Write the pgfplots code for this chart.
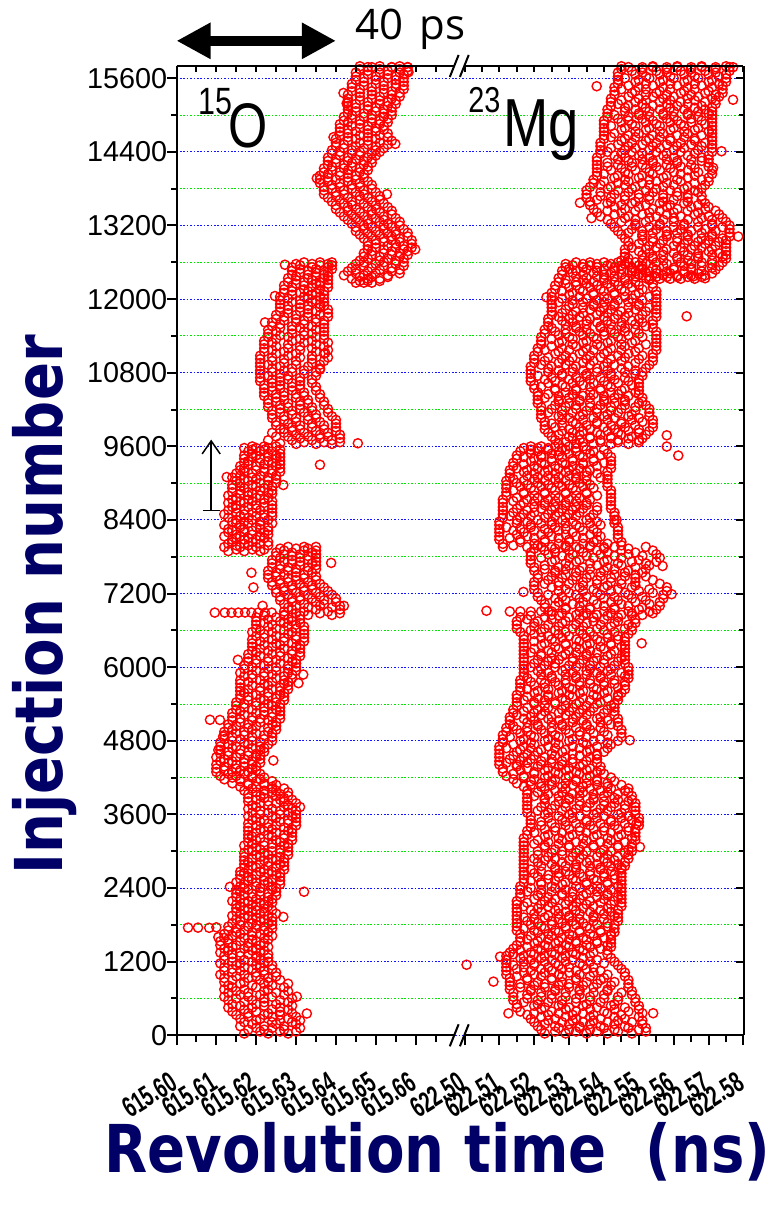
\documentclass[border=0pt]{standalone}
\usepackage{fontspec}
\usepackage{pgfplots}
\usepackage{pgfplotstable}
\pgfplotsset{compat=1.18}
\usetikzlibrary{arrows.meta}

\setmainfont{Liberation Sans}
\newfontfamily\narrowsans{Liberation Sans}[FakeStretch=0.8]
\newfontfamily\ticksans{Liberation Sans}[FakeStretch=0.65]
\newfontfamily\titlesans{DejaVu Sans}[FakeStretch=0.85]
\newfontfamily\labelsans{Open Sans}

\definecolor{navytitle}{RGB}{0,0,102}
\definecolor{gridblue}{RGB}{20,20,255}
\definecolor{gridgreen}{RGB}{0,230,0}

\newcommand\xtickfont{\ticksans\bfseries\fontsize{14.5}{14.5}\selectfont}

\pgfplotsset{
  ringmark/.style={only marks, mark=o, mark size=2.3pt,
    mark options={draw=red, line width=0.7pt}},
  panel/.style={at={(0pt,0pt)}, anchor=south west, scale only axis,
    height=484.65pt, ymin=0, ymax=15800,
    scaled x ticks=false, scaled y ticks=false,
    every tick/.style={black, line width=1pt},
    axis line style={line width=1pt}},
  timelabels/.style={xticklabel style={font=\xtickfont, xshift=-4pt, yshift=-12.5pt,
    rotate=32, anchor=north east, inner sep=0pt}},
}

% Each row: two injection numbers (ya, yb) and the revolution times (ps offset)
% of the ions recorded around them; odd columns belong to ya, even ones to yb.
\newcommand\ringsix[1]{%
  \addplot[ringmark] table[x index=2,y index=0]{#1};
  \addplot[ringmark] table[x index=3,y index=1]{#1};
  \addplot[ringmark] table[x index=4,y index=0]{#1};
  \addplot[ringmark] table[x index=5,y index=1]{#1};
  \addplot[ringmark] table[x index=6,y index=0]{#1};
  \addplot[ringmark] table[x index=7,y index=1]{#1};}
\newcommand\ringten[1]{%
  \addplot[ringmark] table[x index=2,y index=0]{#1};
  \addplot[ringmark] table[x index=3,y index=1]{#1};
  \addplot[ringmark] table[x index=4,y index=0]{#1};
  \addplot[ringmark] table[x index=5,y index=1]{#1};
  \addplot[ringmark] table[x index=6,y index=0]{#1};
  \addplot[ringmark] table[x index=7,y index=1]{#1};
  \addplot[ringmark] table[x index=8,y index=0]{#1};
  \addplot[ringmark] table[x index=9,y index=1]{#1};
  \addplot[ringmark] table[x index=10,y index=0]{#1};
  \addplot[ringmark] table[x index=11,y index=1]{#1};}

% ---------- 15O : time in ps above 615.600 ns ----------
\pgfplotstableread[header=false]{
30 62 17 21 23 26 28 30
92 120 18 20 22 24 27 31
148 183 16 19 22 25 27 30
214 241 17 20 24 26 29 31
268 301 16 18 21 24 28 30
333 360 15 18 22 23 26 29
388 422 14 17 20 24 26 28
452 481 13 16 19 22 26 29
507 539 14 17 20 22 25 28
571 600 13 15 19 22 26 29
628 661 12 16 18 21 24 27
693 721 13 15 18 22 25 28
748 782 12 14 17 20 23 27
812 840 13 16 19 22 24 28
868 901 12 14 17 21 23 26
933 961 12 15 18 20 23 25
988 1022 11 14 17 20 22 25
1052 1080 12 14 16 19 22 24
1108 1141 12 15 17 20 21 24
1172 1200 11 14 16 19 22 23
1228 1262 12 14 17 20 21 23
1293 1321 12 14 16 18 20 23
1348 1382 11 13 16 19 21 22
1412 1440 12 14 17 18 20 23
1468 1501 11 13 15 18 21 22
1533 1561 11 13 16 19 20 23
1588 1622 12 14 17 19 22 24
1652 1680 12 15 16 19 21 23
1708 1741 13 15 17 20 22 24
1773 1801 13 16 18 20 22 24
1828 1862 14 16 19 21 23 24
1892 1920 15 17 19 20 22 24
1948 1981 14 16 18 21 23 25
2013 2041 15 17 19 20 22 24
2068 2102 15 16 18 20 22 23
2132 2160 15 17 19 21 22 24
2188 2221 14 16 18 20 23 24
2253 2281 15 17 19 21 23 25
2308 2342 15 16 19 21 23 25
2372 2400 15 17 18 21 24 25
2428 2461 16 17 20 22 24 26
2493 2521 15 18 20 22 23 26
2548 2582 16 18 19 22 24 26
2612 2640 16 17 20 23 25 26
2668 2701 16 18 21 22 24 27
2733 2761 17 19 20 23 25 27
2788 2822 17 18 21 23 26 27
2852 2880 17 19 22 24 25 27
2908 2941 17 20 21 23 26 28
2973 3001 17 19 22 24 26 28
3028 3062 18 20 21 24 26 28
3092 3120 17 19 22 24 27 28
3148 3181 18 20 22 25 26 29
3213 3241 18 19 21 24 27 29
3268 3302 18 20 23 25 27 29
3332 3360 18 21 22 24 28 29
3388 3421 18 20 23 25 27 30
3453 3481 18 21 23 26 28 30
3508 3542 19 20 22 25 28 30
3572 3600 18 21 24 26 29 30
3628 3661 19 21 23 26 28 30
3693 3721 18 20 24 27 29 31
3748 3782 19 21 23 25 28 30
3812 3840 18 20 23 26 27 29
3868 3901 18 21 22 25 27 28
3933 3961 18 20 22 24 26 28
3988 4022 17 19 22 24 25 27
4052 4080 16 18 20 22 24 25
4108 4141 14 16 18 20 22 24
4173 4201 12 14 16 19 21 22
4228 4262 11 13 15 17 19 21
4292 4320 10 12 14 16 18 20
4348 4381 10 12 15 17 19 20
4413 4441 10 13 15 17 19 21
4468 4502 11 12 14 17 19 21
4532 4560 10 13 15 18 20 21
4588 4621 11 13 16 18 20 22
4653 4681 11 14 16 19 21 22
4708 4742 11 13 15 18 21 23
4772 4800 11 14 17 19 21 24
4828 4861 12 14 16 19 22 24
4893 4921 12 15 17 20 22 24
4948 4982 12 14 17 19 23 25
5012 5040 13 15 18 20 23 25
5068 5101 13 16 18 21 24 25
5133 5161 14 16 19 21 23 26
5188 5222 14 17 19 22 24 26
5252 5280 14 16 20 22 24 26
5308 5341 15 17 19 22 25 26
5373 5401 15 17 20 23 24 26
5428 5462 15 18 20 22 25 27
5492 5520 16 18 21 23 25 27
5548 5581 16 17 20 23 26 27
5613 5641 16 18 21 24 26 28
5668 5702 16 19 21 23 26 28
5732 5760 16 18 22 24 27 28
5788 5821 16 19 21 25 27 29
5853 5881 17 19 22 24 27 29
5908 5942 16 20 22 25 28 30
5972 6000 17 19 23 25 28 30
6028 6061 17 20 22 26 28 30
6093 6121 18 20 23 25 29 30
6148 6182 18 21 23 26 28 31
6212 6240 18 20 24 26 29 31
6268 6301 19 21 23 27 29 31
6333 6361 19 22 24 26 30 31
6388 6422 19 21 25 27 29 32
6452 6480 19 22 24 27 30 32
6508 6541 20 22 25 28 30 32
6573 6601 19 21 24 27 29 32
6628 6662 20 23 25 28 30 32
6692 6720 20 22 24 27 30 31
6748 6781 20 23 26 28 29 31
6812 6840 20 22 25 27 29 31
}\oA
\pgfplotstableread[header=false]{
6852 6880 27 30 33 36 39 41
6908 6941 27 29 32 35 38 41
6973 7001 28 30 33 36 39 41
7028 7062 27 29 32 35 37 40
7092 7120 26 29 31 34 37 40
7148 7181 26 28 31 33 36 39
7213 7241 25 27 30 32 35 38
7268 7302 25 27 29 32 34 37
7332 7360 24 26 29 31 34 36
7388 7421 24 26 28 30 33 35
7453 7481 23 25 28 30 32 35
7508 7542 23 25 27 30 32 34
7572 7600 23 26 28 30 33 35
7628 7661 24 26 28 31 33 35
7693 7721 24 27 29 31 34 35
7748 7782 24 26 29 31 33 35
7812 7840 25 27 29 31 33 35
7868 7901 25 27 29 32 34 35
7933 7961 26 28 30 32 33 35
}\oB
\pgfplotstableread[header=false]{
7892 7920 13 15 17 19 21 22
7958 7986 12 15 16 18 20 23
8012 8041 13 14 17 19 21 23
8078 8106 14 15 17 18 20 22
8132 8161 12 15 16 19 21 23
8198 8226 13 14 17 19 22 23
8252 8281 13 16 17 20 21 23
8318 8346 12 15 16 18 21 24
8372 8401 14 15 17 19 21 23
8438 8466 13 16 18 20 22 24
8492 8521 12 15 17 19 22 24
8558 8586 13 15 17 20 21 24
8612 8641 14 15 18 20 22 24
8678 8706 13 16 17 19 22 24
8732 8761 14 15 18 20 22 23
8798 8826 13 16 18 19 21 24
8852 8881 14 16 18 21 23 24
8918 8946 14 16 17 20 22 24
8972 9001 14 16 19 21 23 25
9038 9066 15 17 18 20 23 25
9092 9121 14 16 19 21 23 25
9158 9186 15 17 19 22 24 26
9212 9241 16 17 20 22 24 26
9278 9306 16 18 20 22 25 26
9332 9361 17 18 21 23 24 26
9398 9426 17 19 21 23 25 26
9452 9481 17 19 20 23 25 26
9518 9546 18 19 21 22 24 26
9572 9598 17 19 20 22 23 25
}\oC
\pgfplotstableread[header=false]{
9640 9668 30 32 35 37 39 41
9702 9731 29 31 34 36 39 41
9758 9790 28 30 33 36 38 41
9822 9850 27 29 32 35 38 40
9878 9911 26 29 31 34 37 40
9942 9970 25 28 31 34 37 40
9998 10031 25 27 30 33 36 40
10062 10090 24 27 30 33 35 39
10118 10151 24 26 29 32 35 38
10182 10210 24 26 29 31 34 38
10238 10271 23 26 28 31 34 37
10302 10330 23 25 28 31 33 37
10358 10391 23 25 27 30 33 36
10422 10450 22 25 27 30 32 36
10478 10511 22 24 27 29 32 35
10542 10570 22 24 26 29 31 35
10598 10631 22 24 26 29 31 34
10662 10690 21 24 26 28 31 34
10718 10751 21 23 26 28 31 35
10782 10810 21 24 26 29 32 35
10838 10871 21 24 27 29 32 36
10902 10930 21 23 26 30 33 36
10958 10991 21 24 27 30 34 37
11022 11050 21 24 27 31 34 38
11078 11111 21 25 28 30 34 37
11142 11170 22 24 27 31 35 38
11198 11231 22 25 28 31 34 37
11262 11290 22 24 28 32 35 38
11318 11351 22 25 29 31 34 37
11382 11410 23 26 28 32 35 37
11438 11471 23 25 29 32 34 37
11502 11530 23 26 29 31 35 37
11558 11591 24 26 29 32 34 37
11622 11650 24 27 30 32 35 37
11678 11711 25 27 30 33 35 38
11742 11770 25 28 30 33 36 38
11798 11831 26 28 31 33 35 38
11862 11890 26 28 31 33 36 37
11918 11951 26 29 31 34 36 37
11982 12010 26 28 31 33 35 37
12038 12071 26 29 32 34 36 37
12102 12130 27 29 31 33 35 37
12158 12191 27 29 32 34 36 38
12222 12250 27 30 32 35 36 38
12278 12311 28 30 32 34 36 38
12342 12370 28 30 33 35 37 38
12398 12431 29 31 33 35 37 38
12462 12490 29 31 33 35 37 39
12518 12551 29 31 34 36 38 39
12572 12598 30 32 34 36 38 39
}\oD
\pgfplotstableread[header=false]{
12268 12296 45 46 47 48 49 51
12332 12361 44 46 48 49 51 53
12388 12420 42 45 47 50 53 56
12452 12480 43 45 48 51 54 56
12508 12541 44 47 49 52 54 57
12572 12600 45 47 50 52 55 57
12628 12661 46 48 51 53 55 57
12692 12720 47 49 51 54 56 58
12748 12781 47 49 52 54 56 58
12812 12840 48 50 52 55 57 59
12868 12901 48 50 53 55 57 59
12932 12960 48 50 52 54 56 59
12988 13021 47 49 52 54 56 58
13052 13080 46 48 51 53 55 58
13108 13141 45 47 50 52 55 57
13172 13200 45 47 49 52 54 56
13228 13261 44 46 48 51 53 56
13292 13320 43 45 48 50 52 55
13348 13381 42 44 47 49 52 54
13412 13440 41 43 46 49 51 54
13468 13501 40 43 45 48 50 53
13532 13560 40 42 44 47 50 52
13588 13621 39 41 44 46 49 51
13652 13680 38 40 43 46 48 51
13708 13741 37 40 42 45 47 50
13772 13800 37 39 42 44 47 49
13828 13861 37 39 41 44 46 49
13892 13920 36 38 41 43 46 48
13948 13981 36 38 40 43 45 47
14012 14040 36 38 41 43 45 47
14068 14101 37 39 41 43 46 48
14132 14160 37 39 42 44 46 48
14188 14221 38 40 42 44 47 49
14252 14280 38 40 43 45 47 49
14308 14341 38 41 43 46 48 50
14372 14400 39 41 44 46 49 51
14428 14461 39 42 44 47 50 52
14492 14520 40 42 45 48 50 53
14548 14581 40 43 46 48 51 54
14612 14640 40 43 45 48 50 53
14668 14701 41 43 46 48 51 53
14732 14760 41 43 45 48 50 52
14788 14821 41 44 46 48 50 52
14852 14880 41 43 46 49 51 53
14908 14941 42 44 46 49 51 53
14972 15000 42 44 47 49 52 54
15028 15061 43 45 47 50 52 54
15092 15120 43 45 48 50 52 54
15148 15181 43 45 48 51 53 55
15212 15240 43 46 48 51 53 55
15268 15301 43 46 49 51 54 56
15332 15360 43 46 49 52 54 56
15388 15421 44 46 49 52 54 57
15452 15480 44 47 49 52 55 57
15508 15541 44 47 50 52 55 57
15572 15600 45 47 50 53 55 57
15628 15661 45 48 50 53 55 57
15692 15720 45 48 51 53 56 58
15748 15781 46 48 51 54 56 58
15795 15780 46 49 51 54 56 58
}\oE
% isolated 15O events: time (ps above 615.600 ns), injection number
\pgfplotstableread[header=false]{
2.9 1755
5.4 1755
8.2 1752
10 1760
10.5 1600
9.6 6890
12.1 6890
13.8 6888
15.5 6890
17.2 6892
18.8 6890
20.5 6890
22.2 6888
23.9 6890
8.4 5143
10.9 5140
11.7 4870
10.5 4650
15.4 6120
18.8 7540
19.3 7300
21.6 7000
38.8 7700
42 7000
32 2340
13.4 2420
26.8 1930
32.7 355
30.2 630
30.6 5740
31.8 5880
24.3 4480
36 9300
45.5 9650
26.8 8970
12.6 9100
36 10850
37.3 11120
24.7 12050
22.2 11620
27.2 12560
39.4 14640
35.2 13970
54.9 14530
52.8 13710
59.9 12810
41.9 15360
42.7 15190
58.2 15700
23 9700
25 9760
26 9650
24 9820
27 9880
}\oX

% ---------- 23Mg : time in ps above 622.500 ns ----------
\pgfplotstableread[header=false]{
30 62 23 26 29 32 35 38 41 44 48 52
92 120 22 27 30 33 36 40 43 47 50 52
148 183 21 23 26 30 33 36 39 43 46 51
214 241 20 24 28 31 34 37 41 44 48 51
268 301 19 22 26 29 32 36 39 43 46 50
333 360 18 20 24 27 31 34 37 41 45 51
388 422 16 22 25 29 32 36 40 43 47 50
452 481 15 20 23 27 30 34 38 42 46 50
507 539 15 17 21 24 28 32 35 39 43 49
571 600 14 18 21 25 28 32 36 40 44 49
628 661 14 18 22 25 29 33 36 40 44 48
693 721 14 19 22 26 29 33 37 41 45 48
748 782 13 16 19 23 26 30 33 37 41 47
812 840 13 16 20 23 27 30 34 38 42 47
868 901 13 18 21 25 28 32 35 39 43 47
933 961 13 15 18 22 25 28 32 36 40 46
988 1022 12 17 20 23 27 30 33 37 41 46
1052 1080 12 15 19 22 25 28 32 35 39 45
1108 1141 12 14 17 20 24 27 30 34 37 44
1172 1200 12 17 20 23 26 29 33 36 40 43
1228 1262 12 16 19 22 25 28 31 34 38 42
1293 1321 12 14 17 20 23 26 29 32 36 41
1348 1382 13 16 19 22 25 28 31 34 37 41
1412 1440 14 18 21 24 27 30 33 36 39 42
1468 1501 15 20 23 26 29 32 35 38 41 42
1533 1561 16 18 21 24 27 30 32 35 38 42
1588 1622 16 19 22 25 28 31 34 37 40 42
1652 1680 16 21 24 27 30 33 36 39 42 43
1708 1741 15 17 20 23 26 29 33 36 39 43
1773 1801 15 19 22 25 29 32 35 38 41 43
1828 1862 15 18 21 25 28 31 34 37 41 44
1892 1920 15 17 20 23 27 30 33 37 40 44
1948 1981 15 20 24 27 30 33 37 40 43 44
2013 2041 15 19 22 26 29 32 36 39 42 44
2068 2102 15 17 21 24 27 31 34 37 41 45
2132 2160 15 18 22 25 29 32 35 39 42 45
2188 2221 15 20 23 26 30 33 36 40 43 45
2253 2281 16 21 24 28 31 34 38 41 44 45
2308 2342 16 18 22 25 28 31 35 38 41 45
2372 2400 16 19 22 26 29 33 36 39 42 45
2428 2461 16 22 25 28 32 35 38 41 44 45
2493 2521 17 19 22 26 29 32 35 38 41 45
2548 2582 17 21 24 27 31 34 37 40 43 45
2612 2640 17 20 24 27 30 33 36 40 43 45
2668 2701 17 19 22 26 29 32 36 39 42 45
2733 2761 17 22 26 29 32 36 39 42 45 46
2788 2822 17 21 25 28 32 35 38 41 44 46
2852 2880 17 20 23 26 30 33 36 40 43 47
2908 2941 17 21 24 28 31 34 38 41 44 47
2973 3001 17 21 25 28 32 35 39 42 46 48
3028 3062 17 23 26 30 33 37 40 44 47 48
3092 3120 17 20 23 27 30 34 37 41 44 48
3148 3181 17 21 24 28 32 35 39 42 46 49
3213 3241 17 23 27 30 34 37 41 44 48 49
3268 3302 18 20 24 28 31 35 38 42 45 49
3332 3360 18 23 26 30 33 37 40 44 47 49
3388 3421 19 22 26 29 33 36 40 43 47 50
3453 3481 19 22 25 29 32 35 39 42 46 50
3508 3542 19 24 28 31 35 38 42 45 48 50
3572 3600 19 23 27 30 33 37 40 44 47 49
3628 3661 18 21 24 28 31 35 38 41 45 49
3693 3721 18 22 25 29 32 35 39 42 46 49
3748 3782 18 23 26 29 33 36 40 43 46 49
3812 3840 18 23 27 30 33 37 40 44 47 48
3868 3901 18 20 23 27 30 33 37 40 43 48
3933 3961 18 21 24 28 31 34 37 41 44 47
3988 4022 18 23 26 29 33 36 39 42 46 47
4052 4080 17 19 22 25 28 31 34 38 41 45
4108 4141 15 19 22 25 29 32 35 38 41 43
4173 4201 14 17 20 23 26 29 32 35 38 42
4228 4262 12 14 17 20 24 27 30 33 36 40
4292 4320 11 16 20 23 26 29 32 35 38 39
4348 4381 11 15 18 21 24 27 30 33 36 39
4413 4441 10 12 15 18 22 25 28 31 34 38
4468 4502 10 13 16 19 22 25 28 31 35 38
4532 4560 10 14 17 20 23 26 29 33 36 38
4588 4621 10 15 18 21 25 28 31 35 38 40
4653 4681 10 12 16 19 22 26 29 33 36 41
4708 4742 10 14 17 20 24 27 31 35 38 42
4772 4800 11 16 19 23 26 30 34 37 41 44
4828 4861 11 13 17 20 24 27 31 35 39 45
4893 4921 11 16 19 23 26 30 33 37 41 45
4948 4982 12 15 18 22 25 29 33 36 40 45
5012 5040 12 14 18 21 25 28 32 35 39 44
5068 5101 13 18 21 25 28 31 35 39 42 44
5133 5161 13 17 20 24 27 31 34 38 41 44
5188 5222 13 15 19 22 25 29 32 35 39 43
5252 5280 14 17 20 23 27 30 33 36 40 43
5308 5341 14 18 21 24 28 31 34 37 41 43
5373 5401 15 20 23 26 29 32 35 38 42 43
5428 5462 15 17 20 23 26 29 33 36 39 44
5492 5520 15 18 21 24 28 31 34 38 41 44
5548 5581 15 20 24 27 30 33 37 40 44 45
5613 5641 16 18 21 24 28 31 34 38 41 46
5668 5702 16 20 23 27 30 33 37 40 44 46
5732 5760 16 19 23 26 29 33 36 40 43 46
5788 5821 16 18 22 25 29 32 36 39 43 47
5853 5881 17 22 25 29 32 35 39 42 46 47
5908 5942 17 21 24 28 31 35 38 41 45 47
5972 6000 17 19 22 26 29 32 36 39 42 47
6028 6061 17 20 23 26 30 33 36 40 43 46
6093 6121 17 21 24 27 31 34 37 40 44 46
6148 6182 17 22 25 28 31 35 38 41 45 46
6212 6240 17 19 22 25 29 32 35 38 42 46
6268 6301 17 20 24 27 30 33 36 40 43 46
6333 6361 17 22 26 29 32 35 39 42 45 46
6388 6422 17 20 23 26 29 33 36 39 42 46
6452 6480 17 22 25 28 32 35 38 41 44 46
6508 6541 17 20 24 27 30 34 37 41 44 47
6573 6601 16 19 22 26 29 33 36 40 43 48
6628 6662 15 20 23 27 31 34 38 42 46 48
6692 6720 15 20 24 28 32 35 39 43 47 49
6748 6781 15 18 21 25 29 33 37 40 44 49
6812 6840 16 19 23 27 30 34 37 41 44 48
}\mA
\pgfplotstableread[header=false]{
6852 6880 25 28 32 35 38 42 45 48 51 54
6908 6941 24 29 33 36 40 43 47 50 53 55
6973 7001 23 26 29 33 36 40 43 47 51 56
7028 7062 23 27 31 34 38 42 45 49 53 56
7092 7120 22 26 29 33 37 40 44 48 52 57
7148 7181 21 24 28 32 35 39 43 47 51 57
7213 7241 21 27 30 34 38 42 46 50 54 58
7268 7302 20 25 29 33 37 40 44 48 53 58
7332 7360 20 23 27 30 34 38 41 45 49 56
7388 7421 20 24 27 31 34 38 42 45 49 54
7453 7481 21 25 28 32 35 39 42 46 49 52
7508 7542 21 26 29 32 36 39 43 46 49 51
7572 7600 20 23 26 29 33 36 40 43 47 52
7628 7661 20 23 27 30 34 38 41 45 49 53
7693 7721 19 25 29 32 36 40 44 48 52 55
7748 7782 19 22 26 30 33 37 41 45 50 56
7812 7840 19 24 28 31 35 39 43 47 51 55
7868 7901 19 23 26 30 34 38 41 45 49 54
7933 7961 20 22 26 29 33 36 40 43 47 52
}\mB
\pgfplotstableread[header=false]{
7958 7986 11 14 18 21 25 29 32 36 40 45
8012 8041 11 16 20 23 27 30 34 37 41 45
8078 8106 10 13 16 20 23 27 30 34 38 44
8132 8161 10 15 18 22 25 29 32 36 39 44
8198 8226 10 14 17 20 24 27 31 34 38 44
8252 8281 10 12 16 19 23 26 29 33 37 44
8318 8346 10 15 19 22 25 29 32 36 39 43
8372 8401 10 15 18 21 25 28 31 35 38 43
8438 8466 11 13 16 19 23 26 29 32 36 43
8492 8521 11 14 17 20 24 27 30 33 37 43
8558 8586 11 15 18 22 25 28 31 34 38 42
8612 8641 11 16 20 23 26 29 32 35 38 42
8678 8706 11 14 17 20 23 26 29 32 35 42
8732 8761 11 15 18 21 24 27 30 33 36 42
8798 8826 12 17 20 23 26 29 32 35 38 42
8852 8881 12 14 17 20 23 26 29 32 35 42
8918 8946 12 16 19 22 25 28 31 34 37 41
8972 9001 12 15 18 21 24 27 30 33 36 41
9038 9066 12 14 17 20 23 26 29 32 35 41
9092 9121 13 18 21 24 27 30 32 35 39 41
9158 9186 13 17 20 23 26 29 32 35 38 41
9212 9241 13 15 18 21 24 27 30 33 36 42
9278 9306 14 17 20 23 26 29 31 34 38 42
9332 9361 14 19 22 25 28 31 34 37 40 42
9398 9426 15 17 20 22 25 28 31 34 37 42
9452 9481 15 19 22 25 27 30 33 36 39 41
9518 9546 16 19 21 24 27 29 32 35 37 40
9572 9598 17 19 21 22 24 26 28 30 32 34
}\mC
\pgfplotstableread[header=false]{
9640 9668 27 29 32 34 37 39 42 44 47 50
9702 9731 26 31 33 36 39 42 44 47 50 51
9758 9790 25 27 30 33 36 39 42 45 48 52
9822 9850 24 28 31 34 38 41 44 47 50 53
9878 9911 23 26 30 33 36 40 43 46 50 54
9942 9970 23 25 28 32 35 38 42 45 49 54
9998 10031 23 28 31 34 38 41 45 48 51 54
10062 10090 22 27 30 33 37 40 43 47 50 53
10118 10151 22 24 28 31 34 38 41 44 48 53
10182 10210 22 25 28 32 35 38 42 45 49 53
10238 10271 22 26 29 32 36 39 42 46 49 52
10302 10330 21 27 30 33 36 40 43 46 50 51
10358 10391 21 23 27 30 33 36 40 43 46 51
10422 10450 21 24 27 31 34 37 40 44 47 50
10478 10511 21 26 29 32 36 39 42 45 49 50
10542 10570 20 22 26 29 32 36 39 42 46 50
10598 10631 20 24 28 31 34 37 41 44 48 50
10662 10690 19 23 26 30 33 36 40 43 47 50
10718 10751 19 21 25 28 32 35 39 42 46 51
10782 10810 19 24 28 31 35 38 42 46 49 51
10838 10871 19 24 27 31 34 38 41 45 49 52
10902 10930 19 22 25 29 32 36 40 43 47 53
10958 10991 20 23 27 30 34 37 41 45 49 54
11022 11050 20 24 28 31 35 39 42 46 50 54
11078 11111 20 26 29 33 36 40 44 47 51 54
11142 11170 21 23 27 30 34 37 41 45 49 55
11198 11231 21 25 28 32 35 39 42 46 50 55
11262 11290 22 27 31 34 38 41 45 48 52 55
11318 11351 22 25 28 31 35 38 42 45 49 55
11382 11410 22 27 30 34 37 40 44 47 51 55
11438 11471 23 26 29 33 36 40 43 46 50 55
11502 11530 23 25 29 32 35 39 42 46 49 54
11558 11591 24 29 32 35 39 42 45 49 52 54
11622 11650 24 28 31 35 38 41 45 48 51 54
11678 11711 24 27 30 33 36 40 43 46 50 55
11742 11770 25 28 31 34 38 41 44 47 51 55
11798 11831 25 29 32 36 39 42 45 49 52 55
11862 11890 25 30 34 37 40 43 47 50 53 55
11918 11951 25 27 31 34 37 40 43 47 50 55
11982 12010 25 28 31 35 38 41 44 48 51 55
12038 12071 25 30 33 37 40 43 46 49 53 55
12102 12130 25 28 31 34 37 40 43 46 50 55
12158 12191 26 30 33 36 39 42 45 48 51 54
12222 12250 26 29 32 35 38 41 44 47 50 54
12278 12311 27 29 32 34 37 40 43 46 49 53
12342 12370 27 32 35 38 40 43 46 49 52 53
12398 12431 28 31 34 37 40 42 45 48 50 52
12462 12490 28 30 32 35 38 40 43 45 48 51
12518 12551 29 31 34 36 38 41 43 45 48 50
12572 12598 29 32 34 36 38 40 42 44 46 47
}\mD
\pgfplotstableread[header=false]{
12332 12361 53 55 56 58 59 61 62 64 66 68
12388 12420 51 55 57 59 61 63 65 67 69 71
12452 12480 49 51 53 55 58 60 63 65 68 72
12508 12541 48 51 54 57 60 63 65 68 71 73
12572 12600 46 49 52 55 58 62 65 68 71 74
12628 12661 45 47 51 54 57 61 64 67 71 75
12692 12720 46 51 54 57 61 64 67 71 74 75
12748 12781 46 50 53 57 60 63 67 70 73 75
12812 12840 46 48 52 55 58 62 65 68 71 75
12868 12901 47 50 53 56 60 63 66 69 72 75
12932 12960 47 51 54 57 61 64 67 70 73 75
12988 13021 46 51 54 58 61 64 68 71 74 76
13052 13080 45 47 51 54 58 61 64 68 71 76
13108 13141 44 48 51 55 58 62 65 69 72 76
13172 13200 43 49 53 56 60 63 67 71 74 76
13228 13261 42 45 49 52 56 60 63 67 71 75
13292 13320 41 46 49 53 57 60 64 68 71 74
13348 13381 39 43 47 51 55 58 62 66 70 73
13412 13440 38 41 45 49 53 56 60 64 67 72
13468 13501 37 43 46 50 54 58 61 65 69 70
13532 13560 36 41 45 48 52 56 59 63 67 69
13588 13621 36 38 42 46 49 53 57 60 64 68
13652 13680 35 39 42 46 50 53 57 61 64 68
13708 13741 35 39 43 47 50 54 57 61 64 67
13772 13800 35 41 44 48 52 55 59 63 66 68
13828 13861 36 39 42 46 49 53 57 60 64 69
13892 13920 37 40 44 47 51 55 58 62 66 70
13948 13981 37 43 46 50 53 57 61 64 68 70
14012 14040 38 40 44 47 51 54 58 62 66 71
14068 14101 38 42 46 49 53 56 60 64 67 71
14132 14160 38 41 45 48 52 55 59 62 66 70
14188 14221 38 41 44 48 51 54 58 61 65 70
14252 14280 38 44 47 51 54 58 61 65 68 70
14308 14341 38 43 46 50 53 57 60 64 68 70
14372 14400 39 41 45 48 51 55 58 62 66 71
14428 14461 39 42 46 49 53 56 60 63 67 71
14492 14520 39 44 47 51 54 58 61 65 68 71
14548 14581 39 45 48 52 55 59 62 66 69 71
14612 14640 40 42 46 49 53 56 59 63 66 71
14668 14701 40 43 47 50 54 57 61 64 68 71
14732 14760 40 45 49 52 56 59 63 66 70 71
14788 14821 40 42 46 49 53 56 60 63 67 71
14852 14880 40 45 48 52 55 59 62 65 69 71
14908 14941 40 44 47 51 54 58 61 65 68 71
14972 15000 41 43 47 50 53 57 60 64 67 71
15028 15061 41 46 50 53 57 60 64 67 70 71
15092 15120 41 46 49 52 56 59 63 66 69 71
15148 15181 42 44 47 51 54 58 61 64 68 72
15212 15240 42 45 49 52 56 59 62 66 69 72
15268 15301 42 47 50 54 57 60 64 67 71 73
15332 15360 43 48 52 55 58 62 65 69 72 74
15388 15421 43 45 49 52 56 59 63 66 70 74
15452 15480 43 47 50 54 57 61 64 68 71 74
15508 15541 44 49 52 56 59 63 66 70 73 75
15572 15600 44 46 50 53 57 60 64 67 71 75
15628 15661 44 49 52 56 59 63 66 70 73 75
15692 15720 44 48 51 55 58 62 65 69 72 76
15748 15781 45 47 51 54 58 61 65 68 72 76
15795 15780 45 51 54 58 61 65 68 72 75 77
}\mE
% isolated 23Mg events: time (ps above 622.500 ns), injection number
\pgfplotstableread[header=false]{
12.6 358
8.3 875
0.6 1150
10.2 1282
54.1 360
6.3 6920
13 6908
16 6908
19 6906
22 6910
25 6908
16.9 7227
56.8 7650
59.4 7190
50.3 3070
47.4 4810
49.3 3450
50.8 6390
58 9780
61.3 9450
58 9597
63.7 11720
37.9 15470
23.5 12030
43.6 8400
69 12340
65.6 12370
78.5 13020
77 15250
71.3 14140
73.7 14410
33.1 13570
36.4 13320
}\mX

\begin{document}
\begin{tikzpicture}
\useasboundingbox (-88.25pt,-86.35pt) rectangle (301.25pt,517.65pt);

% frame: y axis on the left, grid across the whole width
\begin{axis}[panel, width=283.5pt, xmin=0, xmax=1,
  axis x line=none, axis y line*=left,
  ytick={0,1200,...,15600}, minor y tick num=1,
  yticklabels={0,1200,2400,3600,4800,6000,7200,8400,9600,10800,12000,13200,14400,15600},
  yticklabel style={font=\fontsize{14.4}{14.4}\selectfont, anchor=east, inner sep=0pt},
  ymajorgrids, yminorgrids,
  major grid style={draw=gridblue, line width=0.5pt, dash pattern=on 0.8pt off 0.9pt},
  minor grid style={draw=gridgreen, line width=0.5pt, dash pattern=on 0.8pt off 0.9pt},
  tick align=outside, major tick length=4.5pt, minor tick length=2.5pt]
\end{axis}
% right-hand y ticks
\begin{axis}[panel, width=283.5pt, xmin=0, xmax=1,
  axis x line=none, axis y line*=right,
  ytick={0,1200,...,15600}, minor y tick num=1, yticklabels={},
  tick align=inside, major tick length=4pt, minor tick length=2.5pt]
\end{axis}

% ---- 15O panel, 615.600 ns + ps ----
\begin{axis}[panel, width=139.5pt, xmin=0, xmax=70,
  axis x line*=bottom, axis y line=none,
  xtick={0,10,...,60}, minor xtick={5,15,...,65},
  xticklabels={615.60,615.61,615.62,615.63,615.64,615.65,615.66},
  timelabels,
  tick align=outside, major tick length=5pt, minor tick length=3.5pt,
  clip mode=individual]
  \ringsix{\oA}
  \ringsix{\oB}
  \ringsix{\oC}
  \ringsix{\oD}
  \ringsix{\oE}
  \addplot[ringmark] table[x index=0,y index=1]{\oX};
  % 40 ps scale bar
  \draw[line width=5pt, {Triangle[length=17pt,width=17pt]}-{Triangle[length=17pt,width=17pt]}]
    (axis cs:0,16210) -- (axis cs:40,16210);
  % injection-range marker
  \draw[line width=0.75pt, {Bar[width=8.5pt]}-{Straight Barb[length=6.5pt,width=9pt]}]
    (axis cs:8.7,8540) -- (axis cs:8.7,9710);
\end{axis}
\begin{axis}[panel, width=139.5pt, xmin=0, xmax=70,
  axis x line*=top, axis y line=none,
  xtick={0,10,...,60}, minor xtick={5,15,...,65}, xticklabels={},
  tick align=inside, major tick length=3pt, minor tick length=3pt]
\end{axis}

% ---- 23Mg panel, 622.500 ns + ps ----
\begin{axis}[panel, at={(144pt,0pt)}, width=139.5pt, xmin=0, xmax=80,
  axis x line*=bottom, axis y line=none,
  xtick={0,10,...,80}, minor xtick={5,15,...,75},
  xticklabels={622.50,622.51,622.52,622.53,622.54,622.55,622.56,622.57,622.58},
  timelabels,
  tick align=outside, major tick length=5pt, minor tick length=3.5pt]
  \ringten{\mA}
  \ringten{\mB}
  \ringten{\mC}
  \ringten{\mD}
  \ringten{\mE}
  \addplot[ringmark] table[x index=0,y index=1]{\mX};
\end{axis}
\begin{axis}[panel, at={(144pt,0pt)}, width=139.5pt, xmin=0, xmax=80,
  axis x line*=top, axis y line=none,
  xtick={0,10,...,80}, minor xtick={5,15,...,75}, xticklabels={},
  tick align=inside, major tick length=3pt, minor tick length=3pt]
\end{axis}

% axis break marks
\draw[line width=1pt] (136.65pt,-5.5pt) -- (141.05pt,5.5pt);
\draw[line width=1pt] (141.7pt,-5.5pt) -- (146.1pt,5.5pt);
\draw[line width=1pt] (136.65pt,479.15pt) -- (141.05pt,490.15pt);
\draw[line width=1pt] (141.7pt,479.15pt) -- (146.1pt,490.15pt);

% labels
\node[anchor=base west, inner sep=0pt, font=\labelsans\fontsize{21}{21}\selectfont]
  at (89.25pt,497.65pt) {40\hspace{8pt}ps};
\node[anchor=base west, inner sep=0pt, font=\narrowsans\fontsize{19}{19}\selectfont]
  at (10.75pt,460.15pt) {15};
\node[anchor=base west, inner sep=0pt, font=\narrowsans\fontsize{31.5}{31.5}\selectfont]
  at (25.75pt,443.65pt) {O};
\node[anchor=base west, inner sep=0pt, font=\narrowsans\fontsize{18}{18}\selectfont]
  at (145.75pt,461.15pt) {23};
\node[anchor=base west, inner sep=0pt, font=\narrowsans\fontsize{34}{34}\selectfont]
  at (163.25pt,444.15pt) {Mg};
\node[rotate=90, anchor=base, inner sep=0pt, text=navytitle,
  font=\titlesans\bfseries\fontsize{33}{33}\selectfont]
  at (-56.75pt,215.15pt) {Injection number};
\node[anchor=base, inner sep=0pt, text=navytitle,
  font=\titlesans\bfseries\fontsize{33}{33}\selectfont]
  at (130.5pt,-68.35pt) {Revolution time\ \ (ns)};
\end{tikzpicture}
\end{document}
